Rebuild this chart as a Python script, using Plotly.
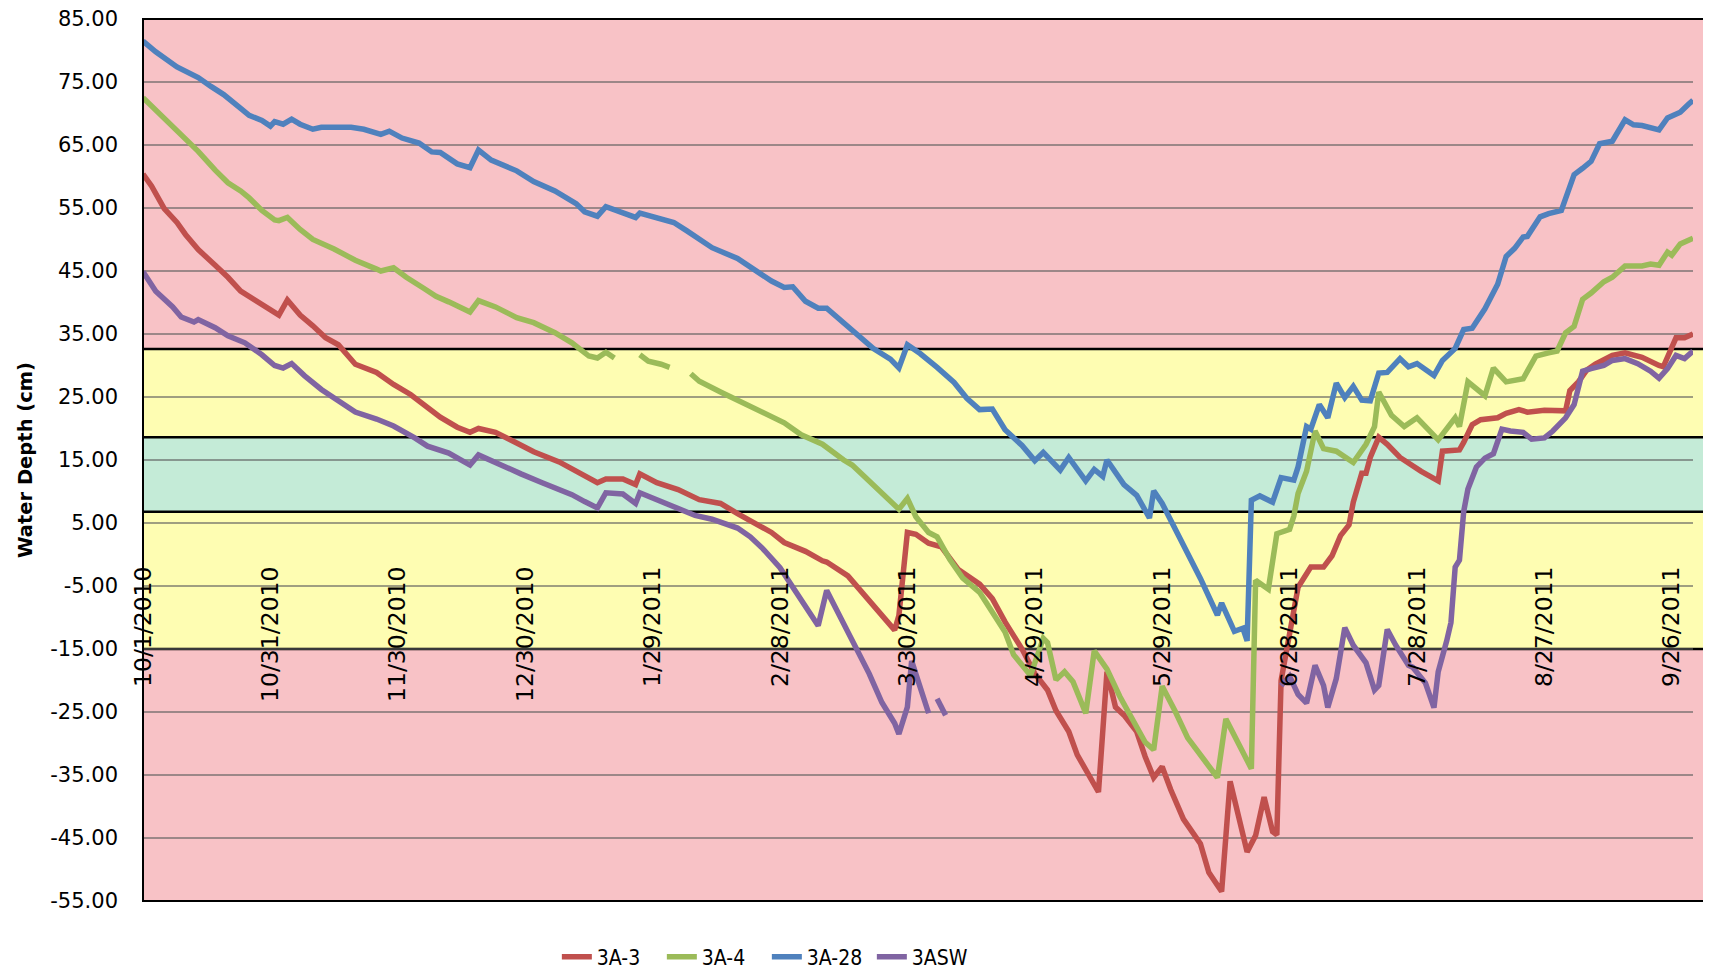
import pandas as pd
import plotly.graph_objects as go

# ---------------- data ----------------
START_DATE = "2010-10-01"
END_DATE = "2011-10-01"

tick_labels = ["10/1/2010", "10/31/2010", "11/30/2010", "12/30/2010", "1/29/2011",
               "2/28/2011", "3/30/2011", "4/29/2011", "5/29/2011", "6/28/2011",
               "7/28/2011", "8/27/2011", "9/26/2011"]

y_tick_values = [85, 75, 65, 55, 45, 35, 25, 15, 5, -5, -15, -25, -35, -45, -55]

series_names = ["3A-3", "3A-4", "3A-28", "3ASW"]

# day offsets from START_DATE and water depth (cm)
a3_days = [0, 2, 5, 8, 10, 13, 17, 20, 23, 25, 29, 32, 34, 37, 40, 43, 46, 50, 55, 59, 63, 67, 70,
           74, 77, 79, 83, 88, 92, 98, 103, 107, 109, 113, 116, 117, 121, 126, 131, 136, 140, 145,
           148, 151, 156, 160, 161, 166, 169, 173, 177, 178, 180, 182, 185, 188, 192, 197, 200,
           203, 207, 210, 213, 215, 218, 220, 223, 225, 227, 229, 231, 234, 236, 238, 240, 242,
           245, 249, 251, 254, 256, 258, 260, 262, 264, 266, 267, 268, 271, 272, 275, 278, 280,
           282, 284, 285, 287, 288, 289, 291, 293, 296, 301, 305, 306, 310, 311, 313, 315, 319,
           321, 324, 326, 330, 335, 336, 338, 340, 342, 346, 349, 353, 357, 358, 361, 363, 365]
a3_depth = [60.4, 58.5, 54.9, 52.7, 50.8, 48.4, 45.9, 44.0, 41.8, 41.0, 39.3, 38.0, 40.4, 38.0,
            36.3, 34.4, 33.3, 30.2, 28.9, 27.0, 25.4, 23.2, 21.8, 20.2, 19.4, 20.0, 19.4, 17.7,
            16.3, 14.7, 12.8, 11.4, 12.0, 12.0, 11.1, 12.8, 11.4, 10.3, 8.7, 8.1, 6.5, 4.5, 3.5,
            1.9, 0.5, -1.0, -1.2, -3.4, -5.7, -8.7, -12.0, -9.7, 3.5, 3.2, 1.8, 1.2, -2.4, -4.7,
            -7.0, -10.7, -15.0, -18.9, -21.5, -24.8, -28.1, -31.8, -35.4, -37.7, -18.6, -24.2,
            -25.5, -28.1, -32.1, -35.4, -33.7, -37.3, -42.0, -45.9, -50.5, -53.5, -36.0, -42.0,
            -47.2, -44.6, -38.5, -44.0, -44.5, -20.0, -9.4, -5.2, -2.0, -2.0, -0.2, 3.0, 4.7, 8.3,
            12.9, 12.9, 15.4, 18.6, 17.5, 15.4, 13.2, 11.7, 16.4, 16.6, 17.8, 20.6, 21.4, 21.7,
            22.4, 23.0, 22.6, 22.9, 22.8, 26.0, 27.4, 29.3, 30.2, 31.6, 32.0, 31.3, 30.0, 29.8,
            34.4, 34.4, 35.0]

a4_days = [0, 3, 7, 10, 13, 17, 20, 23, 25, 28, 31, 32, 34, 37, 40, 45, 50, 55, 56, 59, 62, 66,
           69, 72, 76, 77, 79, 83, 88, 92, 97, 101, 105, 107, 109, 111, 114, 117, 119, 122, 124,
           127, 129, 131, 136, 141, 143, 146, 149, 151, 155, 160, 165, 167, 170, 172, 174, 176,
           178, 180, 182, 185, 187, 190, 193, 197, 200, 203, 205, 208, 209, 212, 213, 215, 217,
           219, 222, 224, 227, 230, 233, 236, 238, 240, 243, 246, 250, 253, 255, 257, 261, 262,
           265, 267, 270, 271, 272, 274, 276, 278, 281, 285, 287, 288, 290, 291, 294, 297, 300,
           303, 305, 309, 310, 312, 314, 316, 318, 321, 325, 328, 331, 333, 335, 337, 339, 341,
           344, 346, 349, 353, 355, 357, 359, 360, 362, 365]
a4_depth = [72.5, 70.5, 68.1, 65.9, 64.0, 61.0, 59.0, 57.7, 56.6, 54.6, 53.1, 53.0, 53.5, 51.6,
            50.0, 48.5, 46.7, 45.3, 45.0, 45.5, 44.0, 42.3, 41.0, 40.1, 38.8, 38.5, 40.3, 39.3,
            37.6, 36.8, 35.2, 33.6, 31.5, 31.2, 32.1, 31.2, None, 31.7, 30.7, 30.2, 29.7, None,
            28.7, 27.5, 25.8, 24.1, 23.6, 22.5, 21.5, 20.9, 19.0, 17.5, 15.0, 14.2, 12.3, 11.0,
            9.8, 8.5, 7.2, 8.9, 6.0, 3.5, 2.8, -0.8, -3.7, -6.0, -9.0, -12.3, -15.9, -18.6, -19.2,
            -13.3, -14.0, -19.9, -18.6, -20.2, -25.2, -15.3, -18.2, -22.5, -26.1, -29.8, -31.0,
            -20.9, -24.8, -29.1, -32.7, -35.4, -26.1, -28.8, -34.0, -4.1, -5.5, 3.3, 4.0, 6.1,
            9.7, 13.2, 19.6, 16.8, 16.4, 14.6, 16.8, 17.5, 20.3, 25.8, 22.1, 20.3, 21.7, 19.6,
            18.2, 21.7, 20.3, 27.4, 26.3, 25.2, 29.6, 27.4, 27.9, 31.5, 32.0, 32.3, 35.2, 36.2,
            40.5, 41.5, 43.3, 44.0, 45.8, 45.8, 46.1, 45.9, 48.0, 47.5, 49.3, 50.2]

a28_days = [0, 3, 8, 13, 16, 19, 23, 25, 28, 30, 31, 33, 35, 37, 40, 42, 49, 52, 56, 58, 61, 65,
            68, 70, 74, 77, 79, 82, 88, 92, 97, 102, 104, 107, 109, 114, 116, 117, 121, 125, 128,
            131, 134, 140, 145, 148, 151, 153, 156, 159, 161, 166, 172, 176, 178, 180, 183, 187,
            189, 191, 194, 197, 200, 203, 207, 210, 212, 216, 218, 222, 224, 226, 227, 231, 234,
            237, 238, 240, 244, 247, 249, 253, 254, 257, 259, 260, 261, 263, 266, 268, 271, 272,
            274, 275, 277, 279, 281, 283, 285, 287, 289, 291, 293, 296, 298, 300, 304, 306, 309,
            311, 313, 316, 319, 321, 323, 325, 326, 329, 331, 334, 335, 337, 339, 341, 343, 346,
            349, 351, 353, 357, 359, 362, 364, 365]
a28_depth = [81.5, 79.8, 77.4, 75.7, 74.3, 73.0, 70.8, 69.7, 68.9, 68.0, 68.7, 68.3, 69.1, 68.3,
             67.5, 67.8, 67.8, 67.5, 66.7, 67.2, 66.1, 65.3, 63.9, 63.8, 62.0, 61.4, 64.2, 62.6,
             60.9, 59.2, 57.7, 55.7, 54.4, 53.7, 55.2, 54.1, 53.5, 54.2, 53.4, 52.7, 51.4, 50.0,
             48.7, 47.0, 44.7, 43.4, 42.4, 42.5, 40.2, 39.1, 39.1, 36.2, 32.7, 31.0, 29.6, 33.3,
             31.9, 29.7, 28.5, 27.3, 24.8, 23.0, 23.1, 19.8, 17.3, 14.9, 16.2, 13.4, 15.4, 11.7,
             13.5, 12.4, 15.0, 11.1, 9.4, 5.8, 10.1, 8.1, 2.8, -1.1, -3.8, -9.6, -7.7, -12.2,
             -11.7, -13.7, 8.6, 9.3, 8.3, 12.2, 11.8, 13.9, 20.3, 19.9, 23.8, 21.7, 27.2, 24.9,
             26.7, 24.5, 24.4, 28.8, 28.9, 31.1, 29.8, 30.3, 28.4, 30.8, 32.7, 35.7, 35.9, 39.0,
             42.9, 47.3, 48.6, 50.4, 50.5, 53.6, 54.1, 54.6, 56.4, 60.3, 61.3, 62.4, 65.2, 65.6,
             69.0, 68.2, 68.1, 67.4, 69.3, 70.2, 71.5, 72.1]

asw_days = [0, 3, 7, 9, 12, 13, 17, 20, 24, 28, 31, 33, 35, 38, 42, 46, 50, 55, 59, 64, 67, 72,
            77, 79, 84, 89, 94, 101, 104, 107, 109, 113, 116, 117, 121, 126, 130, 134, 140, 143,
            146, 150, 153, 156, 159, 161, 164, 167, 171, 174, 177, 178, 180, 181, 183, 185, 186,
            187, 189, 230, 268, 270, 272, 274, 276, 278, 279, 281, 283, 285, 288, 290, 291, 293,
            295, 298, 299, 302, 304, 305, 307, 308, 309, 310, 311, 312, 314, 316, 318, 320, 322,
            325, 327, 330, 332, 335, 337, 339, 341, 344, 346, 349, 352, 355, 357, 359, 361, 363,
            365]
asw_depth = [44.9, 41.8, 39.3, 37.7, 36.9, 37.3, 36.0, 34.7, 33.6, 31.7, 30.0, 29.6, 30.3, 28.4,
             26.2, 24.5, 22.6, 21.5, 20.4, 18.5, 17.2, 16.1, 14.2, 15.8, 14.2, 12.8, 11.4, 9.5,
             8.4, 7.4, 9.8, 9.6, 8.1, 9.8, 8.7, 7.3, 6.2, 5.6, 4.2, 2.8, 0.9, -2.1, -5.1, -8.4,
             -11.3, -5.7, -9.7, -14.0, -18.9, -23.5, -26.8, -28.5, -24.2, -16.9, -20.9, -25.2,
             None, -22.9, -25.5, None, -20.8, -19.3, -22.2, -23.6, -17.6, -20.8, -24.3, -19.7,
             -11.6, -14.4, -17.2, -21.5, -20.8, -11.9, -14.4, -17.6, -17.9, -20.4, -24.3, -18.6,
             -13.7, -10.8, -2.0, -0.9, 6.8, 10.4, 13.9, 15.3, 16.0, 19.9, 19.6, 19.4, 18.3, 18.5,
             19.6, 21.7, 23.8, 29.1, 29.5, 30.0, 30.8, 31.1, 30.3, 29.1, 28.0, 29.5, 31.6, 31.1,
             32.3]

# condition bands (cm): lower, upper, fill
band_lower = [32.6, 18.6, 6.8, -15.0, -55.0]
band_upper = [85.0, 32.6, 18.6, 6.8, -15.0]
band_fill = ["#F8C2C6", "#FEFDB2", "#C4EBD7", "#FEFDB2", "#F8C2C6"]
band_edges = [32.6, 18.6, 6.8, -15.0]

Y_MIN, Y_MAX = -55, 85
XAXIS_CROSS = -1.0

series_colors = ["#C0504D", "#9BBB59", "#4F81BD", "#8064A2"]

# ---------------- figure ----------------
start = pd.Timestamp(START_DATE)


def to_dates(days):
    return [start + pd.Timedelta(days=d) for d in days]


all_days = [a3_days, a4_days, a28_days, asw_days]
all_vals = [a3_depth, a4_depth, a28_depth, asw_depth]

fig = go.Figure()
for name, d, v, c in zip(series_names, all_days, all_vals, series_colors):
    fig.add_trace(go.Scatter(
        x=to_dates(d), y=v, name=name, mode="lines",
        line=dict(color=c, width=5.5), connectgaps=False,
    ))

shapes = []
X_EXT = 1.009
for lo, hi, col in zip(band_lower, band_upper, band_fill):
    shapes.append(dict(type="rect", xref="paper", yref="y", x0=0, x1=X_EXT, y0=lo, y1=hi,
                       fillcolor=col, line=dict(width=0), layer="below"))
for e in band_edges:
    shapes.append(dict(type="line", xref="paper", yref="y", x0=0, x1=X_EXT, y0=e, y1=e,
                       line=dict(color="black", width=2.5), layer="between"))
shapes.append(dict(type="rect", xref="paper", yref="paper", x0=0, x1=X_EXT, y0=0, y1=1,
                   line=dict(color="black", width=2), fillcolor="rgba(0,0,0,0)", layer="above"))

tick_dates = pd.to_datetime(tick_labels, format="%m/%d/%Y")
y_tick_text = ["%.2f" % v for v in y_tick_values]

# the page body has an 8px margin, so the figure is sized/offset to compensate
fig.update_layout(
    width=1703, height=961,
    margin=dict(l=135, r=18, t=10.7, b=68.3, autoexpand=False),
    paper_bgcolor="white", plot_bgcolor="rgba(0,0,0,0)",
    font=dict(family="DejaVu Sans", color="black"),
    shapes=shapes,
    showlegend=True,
    legend=dict(orientation="h", x=0.267, xanchor="left", y=-0.0635, yanchor="middle",
                font=dict(family="DejaVu Sans Condensed, DejaVu Sans", size=21),
                bgcolor="rgba(0,0,0,0)", itemwidth=30,
                entrywidth=60, entrywidthmode="pixels"),
    xaxis=dict(
        type="date", range=[START_DATE, END_DATE],
        tickmode="array", tickvals=tick_dates, ticktext=tick_labels,
        tickangle=-90, tickfont=dict(size=23.5, family="DejaVu Sans"),
        showgrid=False, zeroline=False, showline=False, ticks="",
        anchor="free", position=(XAXIS_CROSS - Y_MIN) / (Y_MAX - Y_MIN),
    ),
    yaxis=dict(
        range=[Y_MIN, Y_MAX], tickmode="array", tickvals=y_tick_values, ticktext=y_tick_text,
        tickfont=dict(size=21, family="DejaVu Sans"), ticklabeloverflow="allow",
        showgrid=True, gridcolor="rgba(95,95,95,0.6)", gridwidth=2,
        zeroline=False, showline=False, ticks="", ticklabelstandoff=24,
        title=dict(text="<b>Water Depth (cm)</b>", font=dict(size=19.5, family="DejaVu Sans"),
                   standoff=12),
    ),
)

fig.write_html("out.html")
